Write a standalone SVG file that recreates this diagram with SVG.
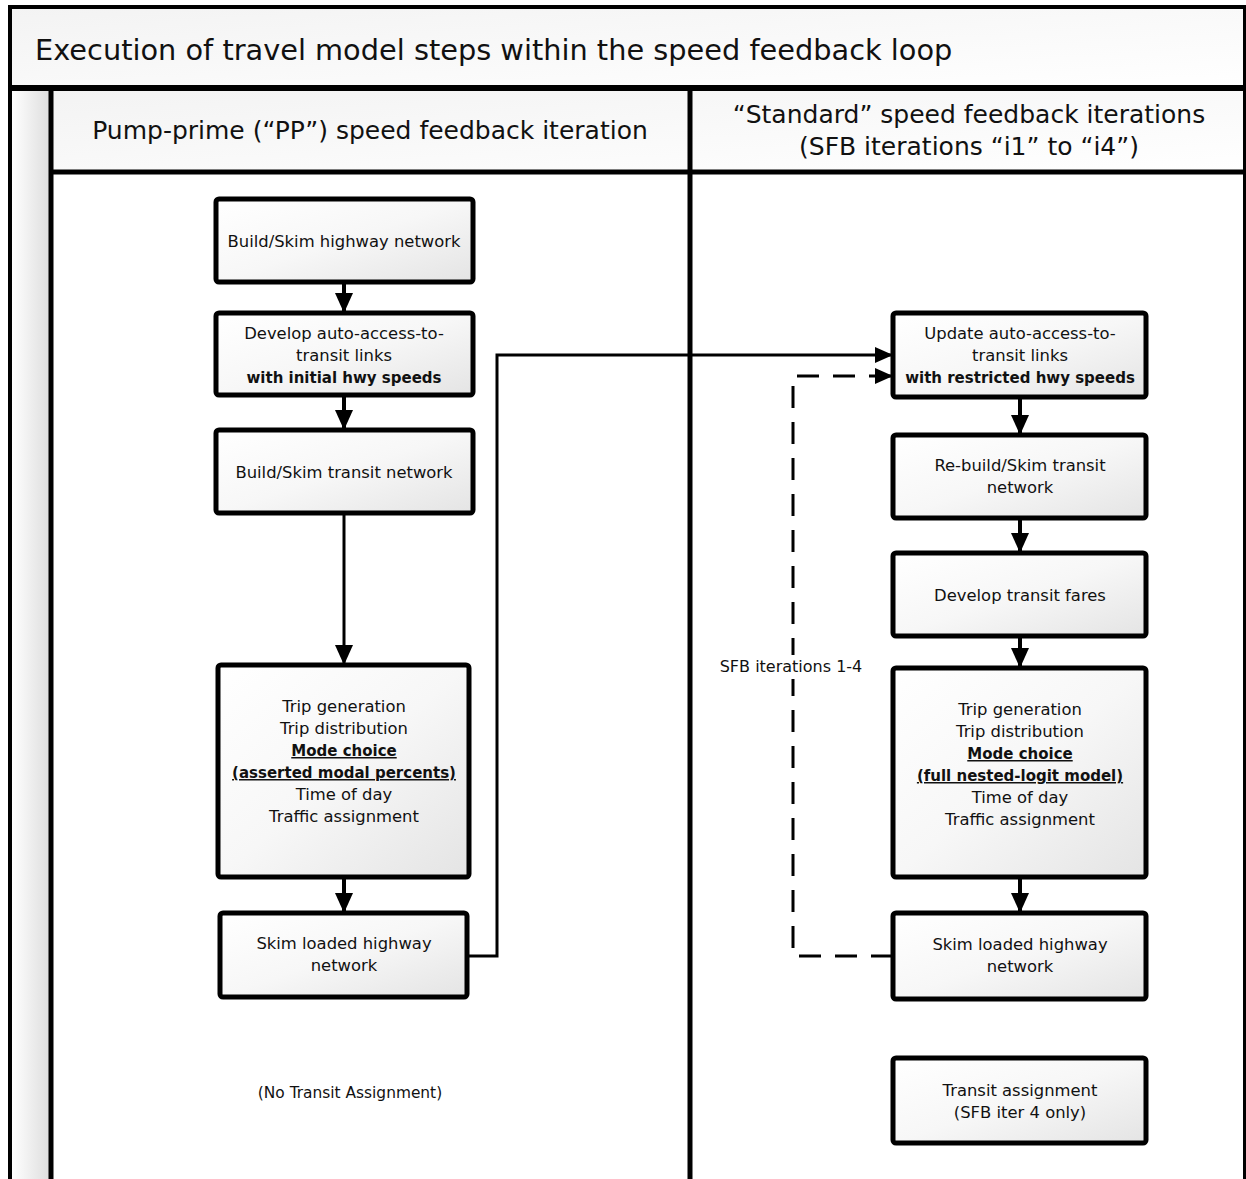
<svg xmlns="http://www.w3.org/2000/svg" width="1246" height="1179" viewBox="0 0 1246 1179">
<style>
text{font-family:"DejaVu Sans","Liberation Sans",sans-serif;fill:#111;text-anchor:middle}
.box{fill:url(#bg);stroke:#000;stroke-width:5}
.t{font-size:16.4px}
.b{font-weight:bold;font-size:15px}
.u{text-decoration:underline}
.c{fill:none;stroke:#000}
</style>
<defs>
<linearGradient id="bg" x1="0" y1="0" x2="1" y2="1">
<stop offset="0" stop-color="#ffffff"/><stop offset="0.5" stop-color="#f7f7f7"/><stop offset="1" stop-color="#e4e4e4"/>
</linearGradient>
<linearGradient id="hg" x1="0" y1="0" x2="1" y2="1">
<stop offset="0" stop-color="#f3f3f3"/><stop offset="1" stop-color="#ffffff"/>
</linearGradient>
<linearGradient id="sg" x1="0" y1="0" x2="1" y2="0">
<stop offset="0" stop-color="#ffffff"/><stop offset="1" stop-color="#dcdcdc"/>
</linearGradient>
<marker id="a" markerUnits="userSpaceOnUse" markerWidth="20" markerHeight="20" viewBox="0 0 20 20" refX="20" refY="10" orient="auto">
<path d="M0,1 L20,10 L0,19 Z" fill="#000"/>
</marker>
<marker id="s" markerUnits="userSpaceOnUse" markerWidth="18" markerHeight="18" viewBox="0 0 18 18" refX="18" refY="9" orient="auto">
<path d="M0,1 L18,9 L0,17 Z" fill="#000"/>
</marker>
</defs>
<rect width="1246" height="1179" fill="#fff"/>
<g id="frame">
<rect x="10" y="7" width="1235" height="81" fill="url(#hg)"/>
<rect x="12" y="88" width="39" height="1091" fill="url(#sg)"/>
<rect x="51" y="88" width="1194" height="84" fill="url(#hg)"/>
<path d="M10,1179 V7 H1245 V1179" fill="none" stroke="#000" stroke-width="4"/>
<line x1="1245" y1="7" x2="1245" y2="1179" stroke="#000" stroke-width="2"/>
<line x1="10" y1="88" x2="1246" y2="88" stroke="#000" stroke-width="6"/>
<line x1="51" y1="172" x2="1246" y2="172" stroke="#000" stroke-width="5"/>
<line x1="51" y1="88" x2="51" y2="1179" stroke="#000" stroke-width="5"/>
<line x1="690" y1="88" x2="690" y2="1179" stroke="#000" stroke-width="5"/>
<text x="35" y="60" style="font-size:28.8px;text-anchor:start">Execution of travel model steps within the speed feedback loop</text>
<text x="370" y="139" style="font-size:25px">Pump-prime (“PP”) speed feedback iteration</text>
<text x="969" y="123" style="font-size:25px">“Standard” speed feedback iterations</text>
<text x="969" y="155" style="font-size:25px">(SFB iterations “i1” to “i4”)</text>
</g>
<g id="connectors">
<line class="c" x1="344" y1="282" x2="344" y2="313" stroke-width="4" marker-end="url(#a)"/>
<line class="c" x1="344" y1="395" x2="344" y2="430" stroke-width="4" marker-end="url(#a)"/>
<line class="c" x1="344" y1="513" x2="344" y2="665" stroke-width="3" marker-end="url(#a)"/>
<line class="c" x1="344" y1="877" x2="344" y2="913" stroke-width="4" marker-end="url(#a)"/>
<line class="c" x1="1020" y1="397" x2="1020" y2="435" stroke-width="4" marker-end="url(#a)"/>
<line class="c" x1="1020" y1="518" x2="1020" y2="553" stroke-width="4" marker-end="url(#a)"/>
<line class="c" x1="1020" y1="636" x2="1020" y2="668" stroke-width="4" marker-end="url(#a)"/>
<line class="c" x1="1020" y1="877" x2="1020" y2="913" stroke-width="4" marker-end="url(#a)"/>
<polyline class="c" points="467,956 497,956 497,355 893,355" stroke-width="3" marker-end="url(#s)"/>
<polyline class="c" points="893,956 793,956 793,376 893,376" stroke-width="3" stroke-dasharray="22,14" marker-end="url(#s)"/>
<rect x="714" y="655" width="156" height="24" fill="#fff"/>
<text x="791" y="672" style="font-size:16px">SFB iterations 1-4</text>
</g>
<g id="n1"><rect class="box" x="216" y="199" width="257" height="83" rx="3"/>
<text class="t" x="344" y="247">Build/Skim highway network</text></g>
<g id="n2"><rect class="box" x="216" y="313" width="257" height="82" rx="3"/>
<text class="t" x="344" y="339">Develop auto-access-to-</text>
<text class="t" x="344" y="361">transit links</text>
<text class="t b" x="344" y="383">with initial hwy speeds</text></g>
<g id="n3"><rect class="box" x="216" y="430" width="257" height="83" rx="3"/>
<text class="t" x="344" y="478">Build/Skim transit network</text></g>
<g id="n4"><rect class="box" x="218" y="665" width="251" height="212" rx="3"/>
<text class="t" x="344" y="712">Trip generation</text>
<text class="t" x="344" y="734">Trip distribution</text>
<text class="t b u" x="344" y="756">Mode choice</text>
<text class="t b u" x="344" y="778">(asserted modal percents)</text>
<text class="t" x="344" y="800">Time of day</text>
<text class="t" x="344" y="822">Traffic assignment</text></g>
<g id="n5"><rect class="box" x="220" y="913" width="247" height="84" rx="3"/>
<text class="t" x="344" y="949">Skim loaded highway</text>
<text class="t" x="344" y="971">network</text></g>
<text x="350" y="1098" style="font-size:15.4px">(No Transit Assignment)</text>
<g id="m1"><rect class="box" x="893" y="313" width="253" height="84" rx="3"/>
<text class="t" x="1020" y="339">Update auto-access-to-</text>
<text class="t" x="1020" y="361">transit links</text>
<text class="t b" x="1020" y="383">with restricted hwy speeds</text></g>
<g id="m2"><rect class="box" x="893" y="435" width="253" height="83" rx="3"/>
<text class="t" x="1020" y="471">Re-build/Skim transit</text>
<text class="t" x="1020" y="493">network</text></g>
<g id="m3"><rect class="box" x="893" y="553" width="253" height="83" rx="3"/>
<text class="t" x="1020" y="601">Develop transit fares</text></g>
<g id="m4"><rect class="box" x="893" y="668" width="253" height="209" rx="3"/>
<text class="t" x="1020" y="715">Trip generation</text>
<text class="t" x="1020" y="737">Trip distribution</text>
<text class="t b u" x="1020" y="759">Mode choice</text>
<text class="t b u" x="1020" y="781">(full nested-logit model)</text>
<text class="t" x="1020" y="803">Time of day</text>
<text class="t" x="1020" y="825">Traffic assignment</text></g>
<g id="m5"><rect class="box" x="893" y="913" width="253" height="86" rx="3"/>
<text class="t" x="1020" y="950">Skim loaded highway</text>
<text class="t" x="1020" y="972">network</text></g>
<g id="m6"><rect class="box" x="893" y="1058" width="253" height="85" rx="3"/>
<text class="t" x="1020" y="1096">Transit assignment</text>
<text class="t" x="1020" y="1118">(SFB iter 4 only)</text></g>
</svg>
